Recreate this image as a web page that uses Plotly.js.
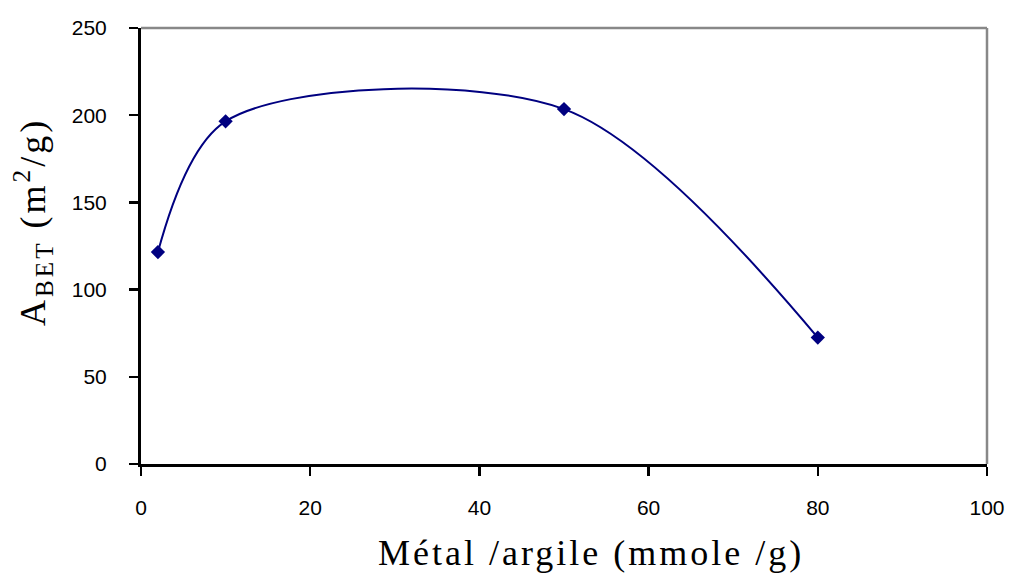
<!DOCTYPE html>
<html><head><meta charset="utf-8">
<script src="https://cdn.plot.ly/plotly-3.0.1.min.js"></script>
<style>body{margin:0;background:#fff}#c{width:1009px;height:574px}
.annotation-text{letter-spacing:3px}</style>
</head><body><div id="c"></div>
<script>
const ratio = [2, 10, 50, 80];
const abet = [121.5, 196.5, 203.5, 72.5];
const xTicks = [0, 20, 40, 60, 80, 100];
const yTicks = [0, 50, 100, 150, 200, 250];
const xTitle = 'Métal /argile (mmole /g)';
const yTitle = 'A<sub>BET</sub> (m<sup>2</sup>/g)';

const trace = {
  x: ratio, y: abet, type: 'scatter', mode: 'lines+markers',
  line: {color: '#000080', width: 2, shape: 'spline', smoothing: 0.9},
  marker: {symbol: 'diamond', size: 11, color: '#000080'},
  showlegend: false, hoverinfo: 'none'
};
const axFont = {family: 'Liberation Sans, Arial, sans-serif', size: 21, color: '#000'};
const titleFont = {family: 'Liberation Serif, Times New Roman, serif', size: 36, color: '#000'};
const layout = {
  width: 1009, height: 574,
  margin: {l: 141, r: 22, t: 28, b: 110},
  paper_bgcolor: '#fff', plot_bgcolor: '#fff',
  xaxis: {
    range: [0, 100], tickvals: xTicks, ticktext: xTicks.map(String),
    showgrid: false, zeroline: false, showline: true, linecolor: '#000', linewidth: 3,
    ticks: 'outside', ticklen: 9, tickwidth: 2.5, tickcolor: '#000',
    ticklabelstandoff: 14,
    tickfont: axFont
  },
  yaxis: {
    range: [0, 250], tickvals: yTicks, ticktext: yTicks.map(String),
    showgrid: false, zeroline: false, showline: true, linecolor: '#000', linewidth: 3,
    ticks: 'outside', ticklen: 9, tickwidth: 2.5, tickcolor: '#000',
    ticklabelstandoff: 18,
    tickfont: axFont
  },
  annotations: [
    {text: xTitle, xref: 'paper', yref: 'paper', x: (591 - 141) / 846, y: -(553 - 464) / 436,
     xanchor: 'center', yanchor: 'middle', showarrow: false, font: titleFont},
    {text: yTitle, xref: 'paper', yref: 'paper', x: -(141 - 33) / 846, y: (464 - 222) / 436,
     xanchor: 'center', yanchor: 'middle', textangle: -90, showarrow: false, font: titleFont}
  ],
  shapes: [
    {type: 'line', xref: 'paper', yref: 'paper', x0: 0, x1: 1, y0: 1, y1: 1, line: {color: '#888', width: 2.5}},
    {type: 'line', xref: 'paper', yref: 'paper', x0: 1, x1: 1, y0: 0, y1: 1, line: {color: '#888', width: 2.5}}
  ]
};
Plotly.newPlot('c', [trace], layout, {displayModeBar: false, staticPlot: true});
</script></body></html>
